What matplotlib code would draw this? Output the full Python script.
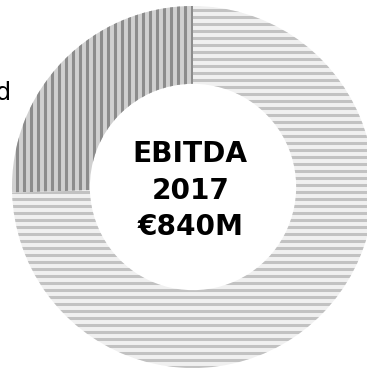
import matplotlib
matplotlib.use("Agg")
import matplotlib.pyplot as plt

# EBITDA 2017 split
segments = ["Regulated", "Other"]
shares = [25.5, 74.5]
face_colors = ["#d0d0d0", "#f0f0f0"]
stripe_colors = ["#8c8c8c", "#c2c2c2"]
stripe_hatches = ["||", "--"]
center_lines = ["EBITDA", "2017", "€840M"]

DPI = 84
W, H = 367, 369
plt.rcParams["hatch.linewidth"] = 2.6

fig = plt.figure(figsize=((W + 0.01) / DPI, (H + 0.01) / DPI), dpi=DPI)
ax = fig.add_axes([0, 0, 1, 1])

wedges, _ = ax.pie(shares, startangle=90, counterclock=True, radius=1,
                   colors=face_colors,
                   wedgeprops=dict(width=0.43, linewidth=0))
for w, ec, h in zip(wedges, stripe_colors, stripe_hatches):
    w.set_edgecolor(ec)
    w.set_linewidth(0)
    w.set_hatch(h)

# ring centre and radius in pixels
cx, cy, R = 193, 182, 181
ax.set_xlim(-cx / R, (W - cx) / R)
ax.set_ylim(-cy / R, (H - cy) / R)
ax.set_aspect("equal")
ax.axis("off")

ax.text(-1.0, 0.52, segments[0], ha="right", va="center",
        fontsize=21, color="black")

ax.text(-0.015, -0.02, "\n".join(center_lines), ha="center", va="center",
        fontsize=24, fontweight="bold", linespacing=1.4, color="black")

fig.savefig("out.png", dpi=DPI)
